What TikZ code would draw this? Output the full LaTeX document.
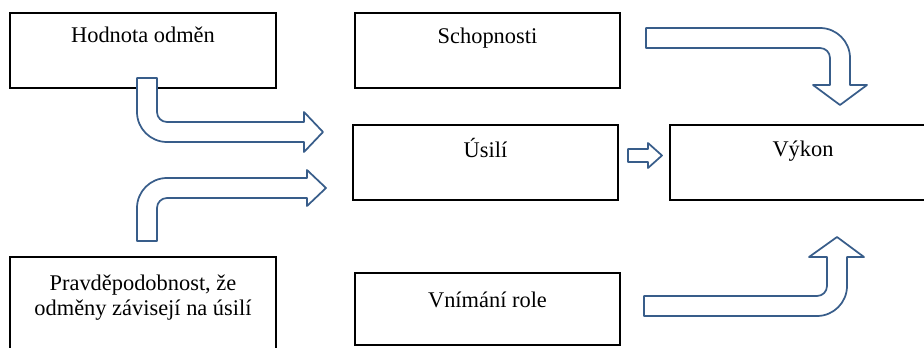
\documentclass[tikz,border=0pt]{standalone}
\usepackage{fontspec}
\setmainfont{Liberation Serif}
\usepackage{xcolor}
\definecolor{arrowblue}{RGB}{56,93,138}

\begin{document}
\begin{tikzpicture}[x=0.75pt, y=0.75pt,
  box/.style={draw=black, line width=1pt, fill=white, inner sep=0pt, minimum height=56.25pt},
  txt/.style={font=\fontsize{16.8pt}{18.75pt}\selectfont, inner sep=0pt, anchor=base, align=center},
  blockarrow/.style={draw=arrowblue, line width=1.3pt, fill=white, line join=round}]
  \useasboundingbox (0,0) rectangle (924,347);
  \clip (0,0) rectangle (924,347);

  % Boxes
  \node[box, minimum width=199.5pt] (hod) at (143,296.5) {};
  \node[box, minimum width=198.75pt] (sch) at (487.5,296.5) {};
  \node[box, minimum width=198.75pt] (usi) at (485.5,184.5) {};
  \node[box, minimum width=199.5pt] (vyk) at (803,184.5) {};
  \node[box, minimum width=198.75pt, minimum height=54pt] (vni) at (487.5,38) {};
  \node[box, minimum width=199.5pt, minimum height=72pt] (prav) at (143,42) {};

  % Box texts
  \node[txt] (hodt) at (143,304) {Hodnota odměn};
  \node[txt] (scht) at (487.5,303) {Schopnosti};
  \node[txt] (usit) at (485.5,190) {Úsilí};
  \node[txt] (vykt) at (803,191) {Výkon};
  \node[txt] (vnit) at (487.5,40) {Vnímání role};
  \node[txt] (pravt) at (143,32) {Pravděpodobnost, že\\odměny závisejí na úsilí};

  % Bent arrows into the effort box
  \draw[blockarrow] (137,269) -- (157,269) -- (157,235) arc[start angle=180, end angle=270, radius=10]
    -- (304,225) -- (304,235) -- (323,215) -- (304,195) -- (304,205) -- (167,205)
    arc[start angle=270, end angle=180, radius=30] -- cycle;
  \draw[blockarrow] (137,106) -- (137,139) arc[start angle=180, end angle=90, radius=30]
    -- (307,169) -- (307,177) -- (326,159) -- (307,141) -- (307,149) -- (167,149)
    arc[start angle=90, end angle=180, radius=10] -- (157,106) -- cycle;

  % Bent arrows into the performance box
  \draw[blockarrow] (646,319) -- (820,319) arc[start angle=90, end angle=0, radius=30]
    -- (850,262) -- (867,262) -- (840,242) -- (813,262) -- (830,262) -- (830,289)
    arc[start angle=0, end angle=90, radius=10] -- (646,299) -- cycle;
  \draw[blockarrow] (644,51) -- (817,51) arc[start angle=270, end angle=360, radius=10]
    -- (827,90) -- (809,90) -- (837,110) -- (864,90) -- (847,90) -- (847,61)
    arc[start angle=0, end angle=-90, radius=30] -- (644,31) -- cycle;

  % Small arrow between effort and performance
  \draw[blockarrow] (628,198) -- (648,198) -- (648,204) -- (662,191.5) -- (648,179)
    -- (648,185) -- (628,185) -- cycle;
\end{tikzpicture}
\end{document}
